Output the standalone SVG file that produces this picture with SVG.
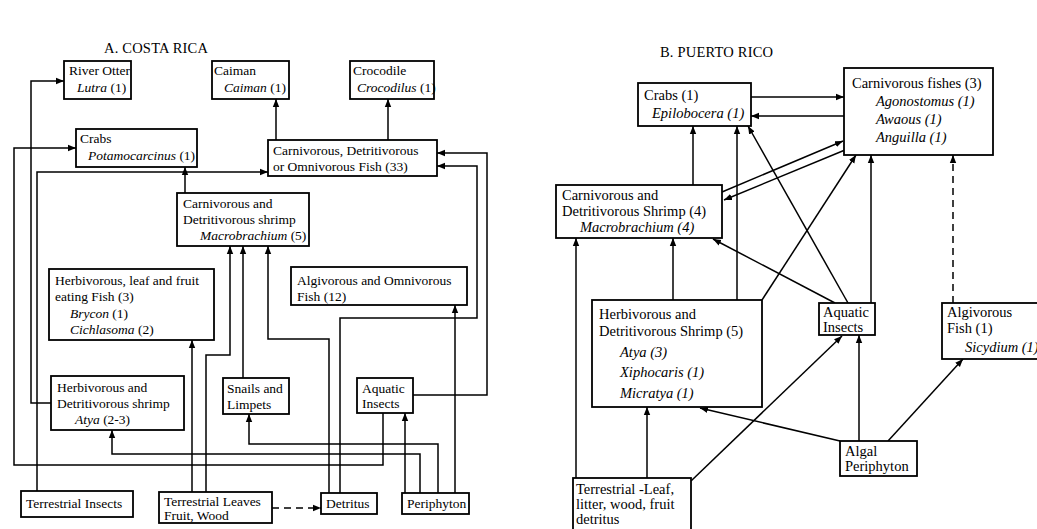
<svg xmlns="http://www.w3.org/2000/svg" width="1037" height="529" viewBox="0 0 1037 529">
<style>
.b{fill:#fff;stroke:#000;stroke-width:1.8}
.c{fill:none;stroke:#000;stroke-width:1.5}
.d{stroke-dasharray:7 5}
text{font-family:"Liberation Serif","Times New Roman",serif;fill:#000}
.cr{font-size:13.5px}
.pr{font-size:14.5px}
.t{font-size:14.5px;letter-spacing:0.2px}
.i{font-style:italic}
</style>
<defs>
<marker id="a" viewBox="0 0 10 10" refX="10" refY="5" markerWidth="8" markerHeight="8" markerUnits="userSpaceOnUse" orient="auto"><path d="M0,1 L10,5 L0,9 z" fill="#000"/></marker>
</defs>
<rect width="1037" height="529" fill="#fff"/>
<text class="t" x="104" y="53">A. COSTA RICA</text>
<text class="t" x="660" y="57">B. PUERTO RICO</text>

<g id="connectors">
<g marker-end="url(#a)">
<path class="c" d="M51,403 H31 V81 H64"/>
<path class="c" d="M383,413 V465 H14 V148 H76"/>
<path class="c" d="M37,491 V172 H268"/>
<path class="c" d="M185,193 V167"/>
<path class="c" d="M276,140 V99"/>
<path class="c" d="M388,140 V99"/>
<path class="c" d="M413,395 H487 V153 H437"/>
<path class="c" d="M340,493 V318 H477 V166 H437"/>
<path class="c" d="M329,493 V339 H268 V246"/>
<path class="c" d="M206,492 V355 H230 V246"/>
<path class="c" d="M243,378 V246"/>
<path class="c" d="M192,492 V340"/>
<path class="c" d="M420,493 V454 H112 V430"/>
<path class="c" d="M438,493 V444 H249 V414"/>
<path class="c" d="M405,493 V413"/>
<path class="c" d="M455,493 V305"/>
<path class="c d" d="M272,508 H321"/>

<path class="c" d="M751,97 H844"/>
<path class="c" d="M844,116 H751"/>
<path class="c" d="M722,192 L843,141"/>
<path class="c" d="M845,150 L724,200"/>
<path class="c" d="M693,185 V126"/>
<path class="c" d="M737,300 V126"/>
<path class="c" d="M848,303 L748,126"/>
<path class="c" d="M871,303 V155"/>
<path class="c" d="M762,300 L856,155"/>
<path class="c" d="M835,303 L713,239"/>
<path class="c" d="M673,300 V238"/>
<path class="c" d="M576,478 V238"/>
<path class="c" d="M647,478 V407"/>
<path class="c" d="M691,481 L842,336"/>
<path class="c" d="M840,441 L700,408"/>
<path class="c" d="M859,441 V335"/>
<path class="c" d="M888,441 L963,359"/>
<path class="c d" d="M953,303 V155"/>
</g>
</g>

<g id="cr-otter"><rect class="b" x="64" y="61" width="67" height="38"/><text class="cr" x="69" y="75">River Otter</text><text class="cr" x="77" y="92"><tspan class="i">Lutra</tspan> (1)</text></g>
<g id="cr-caiman"><rect class="b" x="212" y="61" width="77" height="38"/><text class="cr" x="214" y="75">Caiman</text><text class="cr" x="224" y="92"><tspan class="i">Caiman</tspan> (1)</text></g>
<g id="cr-crocodile"><rect class="b" x="350" y="61" width="84" height="38"/><text class="cr" x="353" y="75">Crocodile</text><text class="cr" x="357" y="92"><tspan class="i">Crocodilus</tspan> (1)</text></g>
<g id="cr-crabs"><rect class="b" x="76" y="129" width="121" height="38"/><text class="cr" x="80" y="143">Crabs</text><text class="cr" x="88" y="160"><tspan class="i">Potamocarcinus</tspan>  (1)</text></g>
<g id="cr-carnfish"><rect class="b" x="268" y="140" width="169" height="36"/><text class="cr" x="273" y="155">Carnivorous, Detritivorous</text><text class="cr" x="273" y="171">or Omnivorous Fish (33)</text></g>
<g id="cr-carnshrimp"><rect class="b" x="177" y="193" width="132" height="53"/><text class="cr" x="183" y="208">Carnivorous and</text><text class="cr" x="183" y="224">Detritivorous shrimp</text><text class="cr" x="200" y="240"><tspan class="i">Macrobrachium</tspan> (5)</text></g>
<g id="cr-herbfish"><rect class="b" x="49" y="269" width="165" height="71"/><text class="cr" x="55" y="285">Herbivorous, leaf and fruit</text><text class="cr" x="55" y="301">eating Fish (3)</text><text class="cr" x="70" y="318"><tspan class="i">Brycon</tspan> (1)</text><text class="cr" x="70" y="334"><tspan class="i">Cichlasoma</tspan> (2)</text></g>
<g id="cr-algfish"><rect class="b" x="291" y="267" width="176" height="38"/><text class="cr" x="297" y="285">Algivorous and Omnivorous</text><text class="cr" x="297" y="301">Fish (12)</text></g>
<g id="cr-atya"><rect class="b" x="51" y="376" width="133" height="54"/><text class="cr" x="57" y="392">Herbivorous and</text><text class="cr" x="57" y="408">Detritivorous shrimp</text><text class="cr" x="75" y="424"><tspan class="i">Atya</tspan> (2-3)</text></g>
<g id="cr-snails"><rect class="b" x="223" y="378" width="66" height="36"/><text class="cr" x="227" y="393">Snails and</text><text class="cr" x="227" y="409">Limpets</text></g>
<g id="cr-aquatic"><rect class="b" x="357" y="378" width="56" height="35"/><text class="cr" x="362" y="393">Aquatic</text><text class="cr" x="362" y="408">Insects</text></g>
<g id="cr-terrinsects"><rect class="b" x="21" y="491" width="112" height="26"/><text class="cr" x="26" y="508">Terrestrial Insects</text></g>
<g id="cr-terrleaves"><rect class="b" x="159" y="492" width="113" height="31"/><text class="cr" x="164" y="506">Terrestrial Leaves</text><text class="cr" x="164" y="520">Fruit, Wood</text></g>
<g id="cr-detritus"><rect class="b" x="321" y="493" width="56" height="21"/><text class="cr" x="326" y="508">Detritus</text></g>
<g id="cr-periphyton"><rect class="b" x="402" y="493" width="67" height="21"/><text class="cr" x="407" y="508">Periphyton</text></g>

<g id="pr-crabs"><rect class="b" x="638" y="83" width="113" height="43"/><text class="pr" x="644" y="100">Crabs (1)</text><text class="pr i" x="652" y="118">Epilobocera (1)</text></g>
<g id="pr-carnfish"><rect class="b" x="844" y="68" width="149" height="87"/><text class="pr" x="852" y="88">Carnivorous fishes (3)</text><text class="pr i" x="876" y="106">Agonostomus (1)</text><text class="pr i" x="876" y="124">Awaous (1)</text><text class="pr i" x="876" y="142">Anguilla (1)</text></g>
<g id="pr-carnshrimp"><rect class="b" x="556" y="185" width="166" height="53"/><text class="pr" x="562" y="200">Carnivorous and</text><text class="pr" x="562" y="216">Detritivorous Shrimp (4)</text><text class="pr i" x="580" y="232">Macrobrachium (4)</text></g>
<g id="pr-herbshrimp"><rect class="b" x="592" y="300" width="170" height="107"/><text class="pr" x="599" y="319">Herbivorous and</text><text class="pr" x="599" y="336">Detritivorous Shrimp (5)</text><text class="pr i" x="620" y="357">Atya (3)</text><text class="pr i" x="620" y="377">Xiphocaris (1)</text><text class="pr i" x="620" y="398">Micratya (1)</text></g>
<g id="pr-aquatic"><rect class="b" x="819" y="303" width="56" height="32"/><text class="pr" x="823" y="317">Aquatic</text><text class="pr" x="823" y="332">Insects</text></g>
<g id="pr-algfish"><rect class="b" x="942" y="303" width="100" height="56"/><text class="pr" x="947" y="317">Algivorous</text><text class="pr" x="947" y="333">Fish (1)</text><text class="pr i" x="965" y="352">Sicydium (1)</text></g>
<g id="pr-algal"><rect class="b" x="840" y="441" width="77" height="35"/><text class="pr" x="845" y="456">Algal</text><text class="pr" x="845" y="471">Periphyton</text></g>
<g id="pr-terrestrial"><rect class="b" x="573" y="478" width="118" height="53"/><text class="pr" x="576" y="494">Terrestrial -Leaf,</text><text class="pr" x="576" y="509">litter, wood, fruit</text><text class="pr" x="576" y="524">detritus</text></g>
</svg>
